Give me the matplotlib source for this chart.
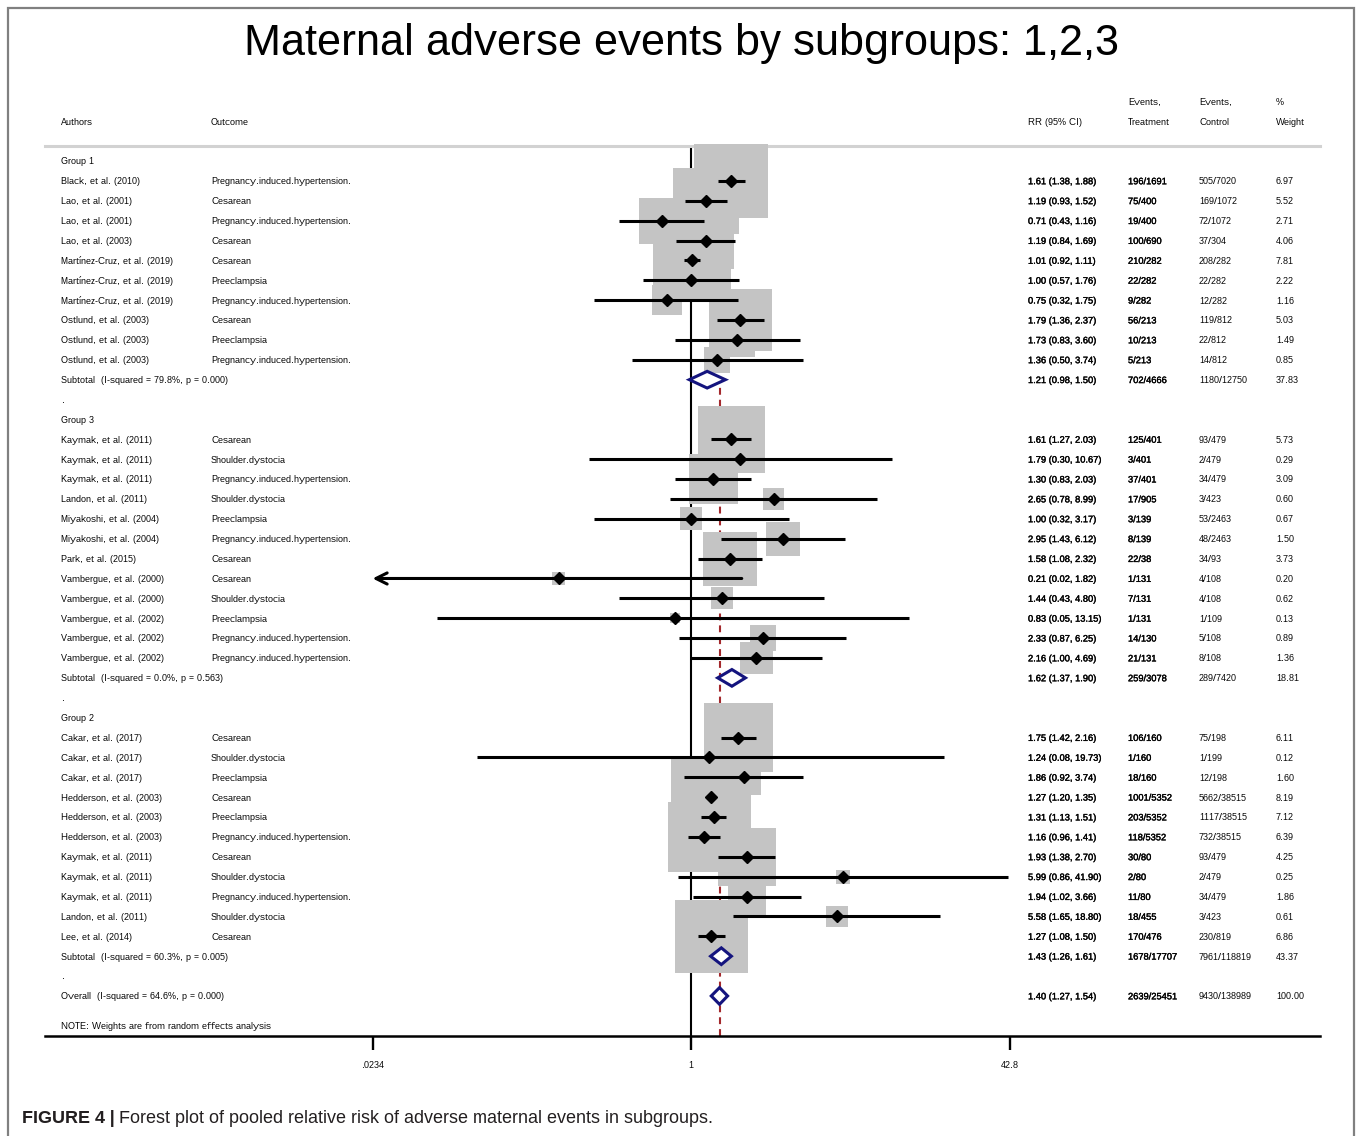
import numpy as np
import matplotlib
matplotlib.use("Agg")
import matplotlib.pyplot as plt
from matplotlib.patches import Polygon, Rectangle
from matplotlib.transforms import blended_transform_factory
from matplotlib.ticker import NullLocator
import matplotlib.patheffects as pe

plt.rcParams['font.family'] = ['Liberation Sans', 'DejaVu Sans']
plt.rcParams['text.hinting'] = 'native'
plt.rcParams['text.hinting_factor'] = 1

# ---------------- data ----------------
title = "Maternal adverse events by subgroups: 1,2,3"
group_names = ["Group 1", "Group 3", "Group 2"]

g1_authors = ["Black, et al. (2010)", "Lao, et al. (2001)", "Lao, et al. (2001)", "Lao, et al. (2003)",
              "Martínez-Cruz, et al. (2019)", "Martínez-Cruz, et al. (2019)", "Martínez-Cruz, et al. (2019)",
              "Ostlund, et al. (2003)", "Ostlund, et al. (2003)", "Ostlund, et al. (2003)"]
g1_outcomes = ["Pregnancy.induced.hypertension.", "Cesarean", "Pregnancy.induced.hypertension.", "Cesarean",
               "Cesarean", "Preeclampsia", "Pregnancy.induced.hypertension.",
               "Cesarean", "Preeclampsia", "Pregnancy.induced.hypertension."]
g1_rr = [1.61, 1.19, 0.71, 1.19, 1.01, 1.00, 0.75, 1.79, 1.73, 1.36]
g1_lo = [1.38, 0.93, 0.43, 0.84, 0.92, 0.57, 0.32, 1.36, 0.83, 0.50]
g1_hi = [1.88, 1.52, 1.16, 1.69, 1.11, 1.76, 1.75, 2.37, 3.60, 3.74]
g1_treat = ["196/1691", "75/400", "19/400", "100/690", "210/282", "22/282", "9/282", "56/213", "10/213", "5/213"]
g1_ctrl = ["505/7020", "169/1072", "72/1072", "37/304", "208/282", "22/282", "12/282", "119/812", "22/812", "14/812"]
g1_weight = [6.97, 5.52, 2.71, 4.06, 7.81, 2.22, 1.16, 5.03, 1.49, 0.85]

g3_authors = ["Kaymak, et al. (2011)", "Kaymak, et al. (2011)", "Kaymak, et al. (2011)", "Landon, et al. (2011)",
              "Miyakoshi, et al. (2004)", "Miyakoshi, et al. (2004)", "Park, et al. (2015)",
              "Vambergue, et al. (2000)", "Vambergue, et al. (2000)", "Vambergue, et al. (2002)",
              "Vambergue, et al. (2002)", "Vambergue, et al. (2002)"]
g3_outcomes = ["Cesarean", "Shoulder.dystocia", "Pregnancy.induced.hypertension.", "Shoulder.dystocia",
               "Preeclampsia", "Pregnancy.induced.hypertension.", "Cesarean",
               "Cesarean", "Shoulder.dystocia", "Preeclampsia",
               "Pregnancy.induced.hypertension.", "Pregnancy.induced.hypertension."]
g3_rr = [1.61, 1.79, 1.30, 2.65, 1.00, 2.95, 1.58, 0.21, 1.44, 0.83, 2.33, 2.16]
g3_lo = [1.27, 0.30, 0.83, 0.78, 0.32, 1.43, 1.08, 0.02, 0.43, 0.05, 0.87, 1.00]
g3_hi = [2.03, 10.67, 2.03, 8.99, 3.17, 6.12, 2.32, 1.82, 4.80, 13.15, 6.25, 4.69]
g3_treat = ["125/401", "3/401", "37/401", "17/905", "3/139", "8/139", "22/38", "1/131", "7/131", "1/131", "14/130", "21/131"]
g3_ctrl = ["93/479", "2/479", "34/479", "3/423", "53/2463", "48/2463", "34/93", "4/108", "4/108", "1/109", "5/108", "8/108"]
g3_weight = [5.73, 0.29, 3.09, 0.60, 0.67, 1.50, 3.73, 0.20, 0.62, 0.13, 0.89, 1.36]

g2_authors = ["Cakar, et al. (2017)", "Cakar, et al. (2017)", "Cakar, et al. (2017)",
              "Hedderson, et al. (2003)", "Hedderson, et al. (2003)", "Hedderson, et al. (2003)",
              "Kaymak, et al. (2011)", "Kaymak, et al. (2011)", "Kaymak, et al. (2011)",
              "Landon, et al. (2011)", "Lee, et al. (2014)"]
g2_outcomes = ["Cesarean", "Shoulder.dystocia", "Preeclampsia",
               "Cesarean", "Preeclampsia", "Pregnancy.induced.hypertension.",
               "Cesarean", "Shoulder.dystocia", "Pregnancy.induced.hypertension.",
               "Shoulder.dystocia", "Cesarean"]
g2_rr = [1.75, 1.24, 1.86, 1.27, 1.31, 1.16, 1.93, 5.99, 1.94, 5.58, 1.27]
g2_lo = [1.42, 0.08, 0.92, 1.20, 1.13, 0.96, 1.38, 0.86, 1.02, 1.65, 1.08]
g2_hi = [2.16, 19.73, 3.74, 1.35, 1.51, 1.41, 2.70, 41.90, 3.66, 18.80, 1.50]
g2_treat = ["106/160", "1/160", "18/160", "1001/5352", "203/5352", "118/5352", "30/80", "2/80", "11/80", "18/455", "170/476"]
g2_ctrl = ["75/198", "1/199", "12/198", "5662/38515", "1117/38515", "732/38515", "93/479", "2/479", "34/479", "3/423", "230/819"]
g2_weight = [6.11, 0.12, 1.60, 8.19, 7.12, 6.39, 4.25, 0.25, 1.86, 0.61, 6.86]

subtotal_labels = ["Subtotal  (I-squared = 79.8%, p = 0.000)",
                   "Subtotal  (I-squared = 0.0%, p = 0.563)",
                   "Subtotal  (I-squared = 60.3%, p = 0.005)"]
subtotal_rr = [1.21, 1.62, 1.43]
subtotal_lo = [0.98, 1.37, 1.26]
subtotal_hi = [1.50, 1.90, 1.61]
subtotal_treat = ["702/4666", "259/3078", "1678/17707"]
subtotal_ctrl = ["1180/12750", "289/7420", "7961/118819"]
subtotal_weight = [37.83, 18.81, 43.37]

overall_label = "Overall  (I-squared = 64.6%, p = 0.000)"
overall_rr, overall_lo, overall_hi = 1.40, 1.27, 1.54
overall_treat, overall_ctrl, overall_weight = "2639/25451", "9430/138989", 100.00

x_ticks = [0.0234, 1, 42.8]
x_tick_labels = [".0234", "1", "42.8"]
note_text = "NOTE: Weights are from random effects analysis"
caption_bold = "FIGURE 4 | "
caption_text = "Forest plot of pooled relative risk of adverse maternal events in subgroups."

groups = [
    (g1_authors, g1_outcomes, g1_rr, g1_lo, g1_hi, g1_treat, g1_ctrl, g1_weight),
    (g3_authors, g3_outcomes, g3_rr, g3_lo, g3_hi, g3_treat, g3_ctrl, g3_weight),
    (g2_authors, g2_outcomes, g2_rr, g2_lo, g2_hi, g2_treat, g2_ctrl, g2_weight),
]

# ---------------- layout ----------------
W, H = 1358, 1136
fig = plt.figure(figsize=(W / 100, H / 100), dpi=100)
fig.patch.set_facecolor('white')

def fx(px):
    return px / W

def fy(py):
    return 1 - py / H

AX_L, AX_R, AX_T, AX_B = 45, 1320, 146, 1036
ax = fig.add_axes([fx(AX_L), fy(AX_B), (AX_R - AX_L) / W, (AX_B - AX_T) / H])
ROW = 19.88
Y0 = 161
X1 = 691
PXL = 84.79
ax.set_xscale('log')
ax.set_xlim(np.exp((AX_L - X1) / PXL), np.exp((AX_R - X1) / PXL))
ax.set_ylim((AX_B - Y0) / ROW, (AX_T - Y0) / ROW)
ax.set_xticks(x_ticks)
ax.set_xticklabels([])
ax.xaxis.set_minor_locator(NullLocator())
ax.tick_params(axis='x', which='major', length=10, width=1.7, direction='out', colors='black')
ax.set_yticks([])
for s in ['left', 'right']:
    ax.spines[s].set_visible(False)
ax.spines['bottom'].set_linewidth(1.8)
ax.spines['top'].set_color('#d2d2d2')
ax.spines['top'].set_linewidth(2.2)
ax.patch.set_alpha(0)

FS = 6.7
BASE = 0.17  # baseline offset (rows) so that text is centred on the row
trans = blended_transform_factory(fig.transFigure, ax.transData)
COL_AUTH, COL_OUT, COL_RR, COL_TR, COL_CT, COL_WT = 61, 211, 1028, 1128, 1199, 1276
bold_fx = [pe.withStroke(linewidth=0.25, foreground='black')]
BOX_GRAY = '#c4c4c4'
NAVY = '#14147e'
MIN_X = x_ticks[0]

def put(col, y, s, effects=None):
    t = ax.text(fx(col), y + BASE, s, transform=trans, fontsize=FS, va='baseline', ha='left',
                color='black')
    if effects:
        t.set_path_effects(effects)
    return t

# tick labels (baseline aligned)
tick_trans = blended_transform_factory(ax.transData, fig.transFigure)
for xv, lab in zip(x_ticks, x_tick_labels):
    ax.text(xv, fy(1067.5), lab, transform=tick_trans, fontsize=FS, ha='center', va='baseline')

# headers
put(COL_TR, -3, "Events,")
put(COL_CT, -3, "Events,")
put(COL_WT, -3, "%")
put(COL_AUTH, -2, "Authors")
put(COL_OUT, -2, "Outcome")
put(COL_RR, -2, "RR (95% CI)")
put(COL_TR, -2, "Treatment")
put(COL_CT, -2, "Control")
put(COL_WT, -2, "Weight")

# reference lines
ax.axvline(1, color='black', lw=1.5, zorder=1)
ax.axvline(overall_rr, color='#a3282c', lw=1.5, ls=(0, (3.3, 2.4)), zorder=1)

def diamond(est, lo, hi, y):
    h = 0.42
    poly = Polygon([[lo, y], [est, y - h], [hi, y], [est, y + h]], closed=True,
                   facecolor='white', edgecolor=NAVY, lw=2.2, zorder=6, joinstyle='miter')
    ax.add_patch(poly)

row = 0
for gi, (auth, outc, rr, lo, hi, tr, ct, wt) in enumerate(groups):
    put(COL_AUTH, row, group_names[gi])
    row += 1
    ys = np.arange(row, row + len(rr))
    ax.scatter(rr, ys, s=406.4 * np.array(wt), marker='s', color=BOX_GRAY, edgecolors='none',
               zorder=3, clip_on=False)
    for i in range(len(rr)):
        y = ys[i]
        if lo[i] < MIN_X:
            ax.annotate('', xy=(MIN_X, y), xytext=(hi[i], y),
                        arrowprops=dict(arrowstyle='->', lw=2.2, color='black', shrinkA=0, shrinkB=0,
                                        mutation_scale=20), zorder=4)
        else:
            ax.hlines(y, lo[i], hi[i], color='black', lw=2.2, zorder=4)
        put(COL_AUTH, y, auth[i])
        put(COL_OUT, y, outc[i])
        put(COL_RR, y, "%.2f (%.2f, %.2f)" % (rr[i], lo[i], hi[i]), bold_fx)
        put(COL_TR, y, tr[i], bold_fx)
        put(COL_CT, y, ct[i])
        put(COL_WT, y, "%.2f" % wt[i])
    ax.plot(rr, ys, ls='none', marker='D', ms=6.5, color='black', zorder=5)
    row += len(rr)
    diamond(subtotal_rr[gi], subtotal_lo[gi], subtotal_hi[gi], row)
    put(COL_AUTH, row, subtotal_labels[gi])
    put(COL_RR, row, "%.2f (%.2f, %.2f)" % (subtotal_rr[gi], subtotal_lo[gi], subtotal_hi[gi]), bold_fx)
    put(COL_TR, row, subtotal_treat[gi], bold_fx)
    put(COL_CT, row, subtotal_ctrl[gi])
    put(COL_WT, row, "%.2f" % subtotal_weight[gi])
    row += 1
    put(COL_AUTH, row, ".")
    row += 1

diamond(overall_rr, overall_lo, overall_hi, row)
put(COL_AUTH, row, overall_label)
put(COL_RR, row, "%.2f (%.2f, %.2f)" % (overall_rr, overall_lo, overall_hi), bold_fx)
put(COL_TR, row, overall_treat, bold_fx)
put(COL_CT, row, overall_ctrl)
put(COL_WT, row, "%.2f" % overall_weight)
put(COL_AUTH, row + 1.5, note_text)

# title
fig.text(fx(682), fy(43), title, fontsize=31.9, ha='center', va='center', color='black')

# frame
fig.patches.append(Rectangle((fx(8), -0.05), (1354 - 8) / W, 1.05 - 8 / H, transform=fig.transFigure,
                             fill=False, edgecolor='#808080', lw=1.6, zorder=0))

# caption
cap_fs = 12.95
fig.canvas.draw()
r = fig.canvas.get_renderer()
t1 = fig.text(fx(22), fy(1123), caption_bold, fontsize=cap_fs, weight='bold', color='#231f20',
              va='baseline', ha='left')
bb = t1.get_window_extent(renderer=r)
fig.text(bb.x1 / W, fy(1123), caption_text, fontsize=cap_fs, color='#231f20', va='baseline', ha='left')

fig.savefig("out.png", dpi=100, facecolor='white')
